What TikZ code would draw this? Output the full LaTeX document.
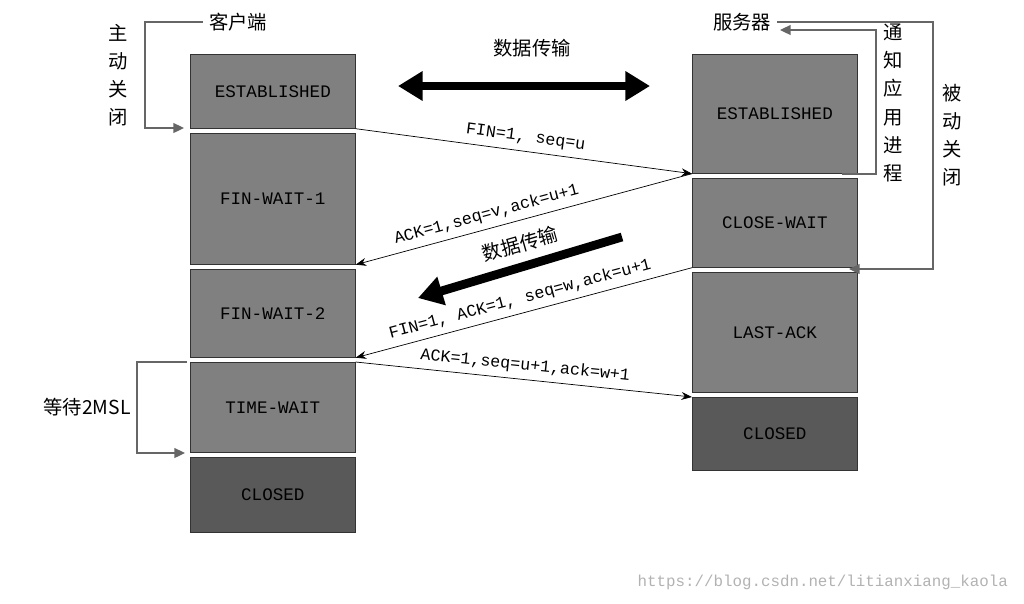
\documentclass[tikz,border=0pt]{standalone}
\usepackage{fontspec}
\setmainfont{Liberation Mono}
\newfontfamily\cjk{Noto Sans CJK SC}
\usetikzlibrary{arrows.meta,positioning}

\tikzset{
  state/.style={draw=black!80,fill=black!50,minimum width=3.3cm,anchor=north west,inner sep=0pt,font=\fontsize{10}{12}\selectfont},
  closed/.style={state,fill=black!65},
  msg/.style={-{Stealth[length=6pt]},black},
  lbl/.style={font=\fontsize{9.5}{11}\selectfont,sloped,above},
  bracket/.style={black!60,thick},
  fathead/.tip={Triangle[length=14pt,width=16pt]},
  fat/.style={line width=5pt},
  cn/.style={font=\cjk\fontsize{11}{13}\selectfont},
  vcn/.style={align=center,inner sep=1pt,font=\cjk\fontsize{11}{16}\selectfont}
}

\begin{document}
\begin{tikzpicture}[x=0.02cm,y=-0.02cm]
\useasboundingbox (0,0) rectangle (1024,603);

% client
\node[state,minimum height=1.48cm] (cest) at (190,54) {ESTABLISHED};
\node[state,minimum height=2.62cm] (fw1) at (190,133) {FIN-WAIT-1};
\node[state,minimum height=1.76cm] (fw2) at (190,269) {FIN-WAIT-2};
\node[state,minimum height=1.8cm] (tw) at (190,362) {TIME-WAIT};
\node[closed,minimum height=1.5cm] (cclosed) at (190,457) {CLOSED};

% server
\node[state,minimum height=2.38cm] (sest) at (692,54) {ESTABLISHED};
\node[state,minimum height=1.78cm] (cw) at (692,178) {CLOSE-WAIT};
\node[state,minimum height=2.4cm] (la) at (692,272) {LAST-ACK};
\node[closed,minimum height=1.46cm] (sclosed) at (692,397) {CLOSED};

% messages
\draw[msg] (cest.south east) -- node[lbl] {FIN=1, seq=u} (sest.south west);
\draw[msg] (sest.south west) -- node[lbl,pos=0.6] {ACK=1,seq=v,ack=u+1} (fw1.south east);
\draw[msg] (cw.south west) -- node[lbl] {FIN=1, ACK=1, seq=w,ack=u+1} (fw2.south east);
\draw[msg] (tw.north east) -- node[lbl] {ACK=1,seq=u+1,ack=w+1} (sclosed.north west);

% data transfer
\coordinate (dl) at (398,86);
\coordinate (dr) at (650,86);
\draw[fat,fathead-fathead] (dl) -- (dr);
\node[cn] (d1) at (532,48) {数据传输};
\coordinate (ds) at (622,237);
\coordinate (de) at (418,298);
\draw[fat,-fathead] (ds) -- (de);
\node[cn,rotate=16] (d2) at (520,244) {数据传输};

% client brackets
\node[cn] (client) at (238,22) {客户端};
\draw[bracket,-{Triangle[length=6pt]}] (client.west) -| (145,128) -- (184,128);
\node[vcn] (act) at (118,75) {主\\动\\关\\闭};
\node[cn] (wait) at (87,407) {等待2MSL};
\draw[bracket,-{Triangle[length=6pt]}] (187,362) -- (137,362) -- (137,453) -- (185,453);

% server brackets
\node[cn] (server) at (742,22) {服务器};
\draw[bracket,-{Triangle[length=6pt]}] (842,174) -- (876,174) -- (876,30) -- (780,30);
\node[vcn] (notify) at (893,103) {通\\知\\应\\用\\进\\程};
\draw[bracket,-{Triangle[length=6pt]}] (server.east) -- (933,22) -- (933,269) -- (849,269);
\node[vcn] (pas) at (952,135) {被\\动\\关\\闭};

\node[font=\fontsize{9}{11}\selectfont,text=black!30,anchor=south east] (wm) at (1014,596) {https://blog.csdn.net/litianxiang\_kaola};
\end{tikzpicture}
\end{document}
